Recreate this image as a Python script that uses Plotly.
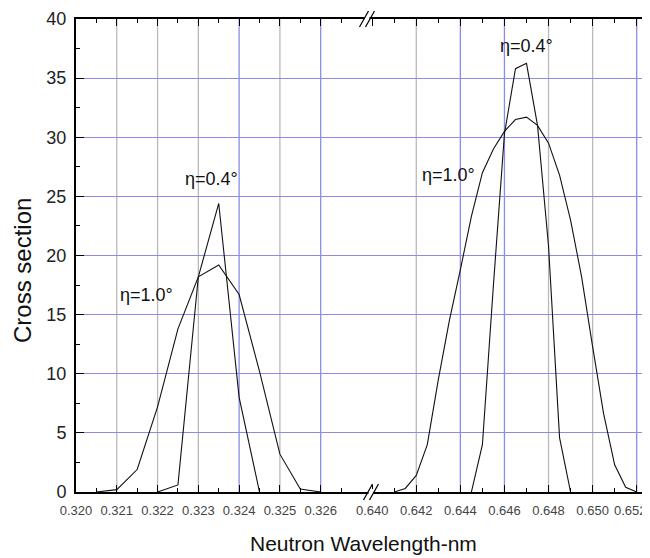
import plotly.graph_objects as go

# ---------------- data ----------------
wl_left_10 = [0.3205, 0.3210, 0.3215, 0.3220, 0.3225, 0.3230, 0.3235, 0.3240, 0.3245, 0.3250, 0.3255, 0.3260]
cs_left_10 = [0.0, 0.2, 1.9, 7.2, 13.8, 18.2, 19.2, 16.7, 10.2, 3.2, 0.25, 0.0]

wl_left_04 = [0.3220, 0.3225, 0.3230, 0.3235, 0.3240, 0.3245]
cs_left_04 = [0.0, 0.6, 18.2, 24.4, 8.0, 0.0]

wl_right_10 = [0.6410, 0.6415, 0.6420, 0.6425, 0.6430, 0.6435, 0.6440, 0.6445, 0.6450, 0.6455,
               0.6460, 0.6465, 0.6470, 0.6475, 0.6480, 0.6485, 0.6490, 0.6495, 0.6500, 0.6505,
               0.6510, 0.6515, 0.6520]
cs_right_10 = [0.0, 0.3, 1.4, 4.0, 9.5, 14.5, 18.8, 23.3, 27.0, 29.0,
               30.5, 31.5, 31.7, 31.0, 29.5, 26.8, 23.0, 18.2, 12.3, 6.6,
               2.3, 0.4, 0.0]

wl_right_04 = [0.6445, 0.6450, 0.6455, 0.6460, 0.6465, 0.6470, 0.6475, 0.6480, 0.6485, 0.6490]
cs_right_04 = [0.0, 4.0, 17.5, 30.3, 35.8, 36.25, 31.0, 20.8, 4.6, 0.0]

left_ticks = [0.320, 0.321, 0.322, 0.323, 0.324, 0.325, 0.326]
left_ticktext = ["0.320", "0.321", "0.322", "0.323", "0.324", "0.325", "0.326"]
left_minor = [0.3205, 0.3215, 0.3225, 0.3235, 0.3245, 0.3255, 0.3265]
right_ticks = [0.640, 0.642, 0.644, 0.646, 0.648, 0.650, 0.652]
right_ticktext = ["0.640", "0.642", "0.644", "0.646", "0.648", "0.650", "0.652"]
right_minor = [0.641, 0.643, 0.645, 0.647, 0.649, 0.651]

grid_left = [0.321, 0.322, 0.323, 0.324, 0.325, 0.326]
grid_left_kind = ["g", "g", "g", "b", "g", "b"]
grid_right = [0.642, 0.644, 0.646, 0.648, 0.650, 0.652]
grid_right_kind = ["g", "b", "b", "g", "g", "b"]

y_ticks = [0, 5, 10, 15, 20, 25, 30, 35, 40]

# ---------------- layout geometry ----------------
# The page body has an 8px default margin, so the figure is drawn 8px
# smaller and all reference pixel positions are shifted by OFF.
OFF = 8
W, H = 650 - OFF, 558 - OFF
L, R, T = 76 - OFF, 0, 19 - OFF
B = H - T - 473
PW = W - L - R
PH = H - T - B
BREAK_PX = 368 - OFF
d = (BREAK_PX - L) / PW

FONT = "Arial, Liberation Sans, Helvetica, sans-serif"
BLUE = "rgb(140,140,232)"
GRAY = "rgb(185,185,185)"
LINE = "black"
TICKFONT_X = dict(family=FONT, size=13, color="#444")

def px2x(px):
    """reference page pixel -> paper fraction"""
    return (px - OFF - L) / PW

def py2y(py):
    return (H - B - (py - OFF)) / PH

fig = go.Figure()

line_style = dict(color="#111", width=1.1)
fig.add_trace(go.Scatter(x=wl_left_10, y=cs_left_10, mode="lines", line=line_style, xaxis="x", yaxis="y", showlegend=False))
fig.add_trace(go.Scatter(x=wl_left_04, y=cs_left_04, mode="lines", line=line_style, xaxis="x", yaxis="y", showlegend=False))
fig.add_trace(go.Scatter(x=wl_right_10, y=cs_right_10, mode="lines", line=line_style, xaxis="x2", yaxis="y2", showlegend=False))
fig.add_trace(go.Scatter(x=wl_right_04, y=cs_right_04, mode="lines", line=line_style, xaxis="x2", yaxis="y2", showlegend=False))

shapes = []
for xv, k in zip(grid_left, grid_left_kind):
    shapes.append(dict(type="line", xref="x", yref="paper", x0=xv, x1=xv, y0=0, y1=1,
                       line=dict(color=BLUE if k == "b" else GRAY, width=1.3), layer="below"))
for xv, k in zip(grid_right, grid_right_kind):
    shapes.append(dict(type="line", xref="x2", yref="paper", x0=xv, x1=xv, y0=0, y1=1,
                       line=dict(color=BLUE if k == "b" else GRAY, width=1.3), layer="below"))

# axis break marks (top and bottom)
def break_marks(cx, cy):
    out = []
    out.append(dict(type="rect", xref="paper", yref="paper",
                    x0=px2x(cx - 2.5), x1=px2x(cx + 2.5), y0=py2y(cy + 3), y1=py2y(cy - 3),
                    fillcolor="white", line=dict(width=0), layer="above"))
    for off in (-3, 3):
        out.append(dict(type="line", xref="paper", yref="paper",
                        x0=px2x(cx + off - 4.5), y0=py2y(cy + 8),
                        x1=px2x(cx + off + 4.5), y1=py2y(cy - 8),
                        line=dict(color="black", width=1.3), layer="above"))
    return out

shapes += break_marks(367, 19)
shapes += break_marks(371, 492)

axis_common = dict(showline=True, linecolor=LINE, linewidth=2, ticks="inside", ticklen=7,
                   tickwidth=1.3, tickcolor=LINE, showgrid=False, zeroline=False, automargin=False,
                   tickfont=TICKFONT_X, ticklabelstandoff=5)

# last right-hand label sits on the figure edge; plotly would drop it, so it is drawn as text
right_ticktext_axis = right_ticktext[:-1] + [""]

fig.update_layout(
    width=W, height=H,
    margin=dict(l=L, r=R, t=T, b=B, autoexpand=False),
    paper_bgcolor="white", plot_bgcolor="white",
    font=dict(family=FONT, color="#222"),
    xaxis=dict(domain=[0, d], range=[0.320, 0.320 + (BREAK_PX - L) / 40.78 * 0.001],
               tickmode="array", tickvals=left_ticks, ticktext=left_ticktext,
               mirror="ticks", anchor="y",
               minor=dict(tickmode="array", tickvals=left_minor, ticks="inside", ticklen=4,
                          tickwidth=1.3, tickcolor=LINE, showgrid=False),
               **axis_common),
    xaxis2=dict(domain=[d, 1], range=[0.640 - 4.2 / 22.04 * 0.001, 0.652 + 13.3 / 22.04 * 0.001],
                tickmode="array", tickvals=right_ticks, ticktext=right_ticktext_axis,
                mirror="ticks", anchor="y2",
                minor=dict(tickmode="array", tickvals=right_minor, ticks="inside", ticklen=4,
                           tickwidth=1.3, tickcolor=LINE, showgrid=False),
                **axis_common),
    yaxis=dict(range=[0, 40], tickmode="array", tickvals=y_ticks, anchor="x", side="left",
               showline=True, linecolor=LINE, linewidth=2, ticks="inside", ticklen=8,
               tickwidth=1.3, tickcolor=LINE, showgrid=True, gridcolor=BLUE, gridwidth=1.2,
               zeroline=False, automargin=False, tickfont=dict(family=FONT, size=18, color="#222"),
               ticklabelstandoff=4,
               minor=dict(dtick=2.5, tick0=0, ticks="inside", ticklen=4, tickwidth=1.3,
                          tickcolor=LINE, showgrid=False)),
    yaxis2=dict(range=[0, 40], matches="y", tickmode="array", tickvals=y_ticks, anchor="x2",
                side="right", showticklabels=False, automargin=False,
                showline=True, linecolor=LINE, linewidth=2, ticks="inside", ticklen=8,
                tickwidth=1.3, tickcolor=LINE, showgrid=True, gridcolor=BLUE, gridwidth=1.2,
                zeroline=False,
                minor=dict(dtick=2.5, tick0=0, ticks="inside", ticklen=4, tickwidth=1.3,
                           tickcolor=LINE, showgrid=False)),
    shapes=shapes,
)

ann_font = dict(family=FONT, size=18, color="#111")
annotations = [
    dict(text="η=0.4°", x=0.32333, y=26.5, xref="x", yref="y", showarrow=False, font=ann_font),
    dict(text="η=1.0°", x=0.32174, y=16.7, xref="x", yref="y", showarrow=False, font=ann_font),
    dict(text="η=0.4°", x=0.64702, y=37.7, xref="x2", yref="y2", showarrow=False, font=ann_font),
    dict(text="η=1.0°", x=0.64344, y=26.8, xref="x2", yref="y2", showarrow=False, font=ann_font),
    dict(text=right_ticktext[-1], x=1.0, y=py2y(510), xref="paper", yref="paper",
         xanchor="right", yanchor="middle", xshift=-1, showarrow=False, font=TICKFONT_X),
    dict(text="Neutron Wavelength-nm", x=px2x(363), y=py2y(543), xref="paper", yref="paper",
         xanchor="center", yanchor="middle",
         showarrow=False, font=dict(family=FONT, size=21, color="#111")),
    dict(text="Cross section", x=px2x(22), y=py2y(271), xref="paper", yref="paper",
         xanchor="center", yanchor="middle",
         showarrow=False, textangle=-90, font=dict(family=FONT, size=24, color="#111")),
]
fig.update_layout(annotations=annotations)

fig.write_html("out.html")
